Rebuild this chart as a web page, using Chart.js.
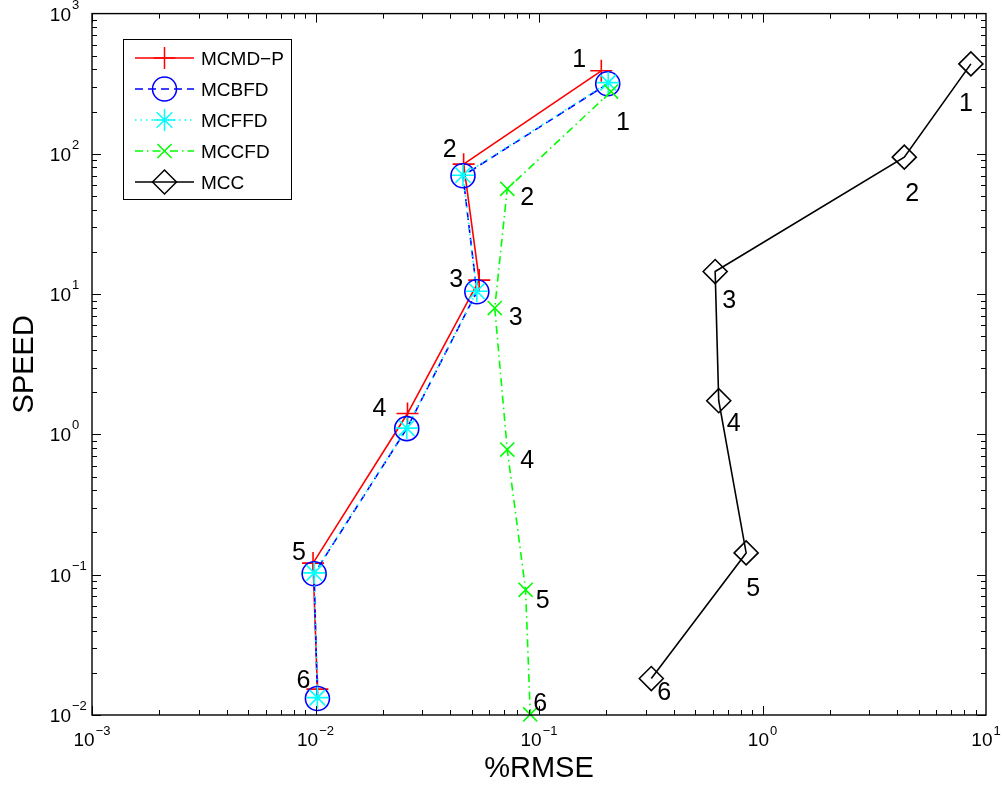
<!DOCTYPE html>
<html>
<head>
<meta charset="utf-8">
<script src="https://cdn.jsdelivr.net/npm/chart.js@4.4.1/dist/chart.umd.min.js"></script>
<style>
  html, body { margin: 0; padding: 0; background: #fff; }
  #wrap { width: 1003px; height: 786px; }
</style>
</head>
<body>
<div id="wrap"><canvas id="speedChart"></canvas></div>
<script>
/* datos */
const pointLabels = ['1', '2', '3', '4', '5', '6'];

const mcmdpRmse  = [0.19, 0.046, 0.054, 0.0258, 0.00975, 0.0102];
const mcmdpSpeed = [391, 84.5, 12.6, 1.41, 0.121, 0.0153];

const mcbfdRmse  = [0.203, 0.0457, 0.0527, 0.0256, 0.00986, 0.0102];
const mcbfdSpeed = [316, 69.8, 10.4, 1.10, 0.1016, 0.0131];

const mcffdRmse  = [0.204, 0.0457, 0.0527, 0.0256, 0.00986, 0.0102];
const mcffdSpeed = [322, 70.5, 10.5, 1.11, 0.103, 0.0133];

const mccfdRmse  = [0.21, 0.0721, 0.0634, 0.0721, 0.0871, 0.0914];
const mccfdSpeed = [278, 56.4, 7.96, 0.78, 0.078, 0.0101];

const mccRmse  = [8.56, 4.31, 0.614, 0.637, 0.845, 0.318];
const mccSpeed = [438, 94.8, 14.5, 1.74, 0.143, 0.0182];

const xTicks = [0.001, 0.01, 0.1, 1, 10];
const yTicks = [0.01, 0.1, 1, 10, 100, 1000];

const FONT = '"Liberation Sans", Arial, Helvetica, sans-serif';

/* estilos tipo MATLAB */
const series = [
  { label: 'MCMD\u2212P', x: mcmdpRmse, y: mcmdpSpeed, color: '#ff0000', dash: [],            marker: 'cross',    r: 11 },
  { label: 'MCBFD',       x: mcbfdRmse, y: mcbfdSpeed, color: '#0000ff', dash: [8, 5],         marker: 'circle',   r: 12 },
  { label: 'MCFFD',       x: mcffdRmse, y: mcffdSpeed, color: '#00ffff', dash: [1.5, 4],       marker: 'star',     r: 11 },
  { label: 'MCCFD',       x: mccfdRmse, y: mccfdSpeed, color: '#00ff00', dash: [8, 4, 1.5, 4], marker: 'crossRot', r: 10 },
  { label: 'MCC',         x: mccRmse,   y: mccSpeed,   color: '#000000', dash: [],            marker: 'rectRot',  r: 12 }
];

// desplazamiento de los numeros respecto al punto (px)
const labelOffsets = {
  0: [[-22, -13], [-14, -16], [-23, -2], [-28, -7], [-14, -12], [-14, -10]],
  3: [[12, 29], [20, 7], [21, 8], [20, 9], [17, 9], [10, -12]],
  4: [[-5, 38], [8, 35], [14, 27], [15, 21], [7, 34], [13, 12]]
};

function drawMarker(ctx, style, x, y, r) {
  const d = r * Math.SQRT1_2;
  ctx.beginPath();
  if (style === 'circle') {
    ctx.arc(x, y, r, 0, Math.PI * 2);
  } else if (style === 'cross' || style === 'star') {
    ctx.moveTo(x - r, y); ctx.lineTo(x + r, y);
    ctx.moveTo(x, y - r); ctx.lineTo(x, y + r);
  }
  if (style === 'crossRot' || style === 'star') {
    ctx.moveTo(x - d, y - d); ctx.lineTo(x + d, y + d);
    ctx.moveTo(x - d, y + d); ctx.lineTo(x + d, y - d);
  }
  if (style === 'rectRot') {
    ctx.moveTo(x - r, y); ctx.lineTo(x, y - r);
    ctx.lineTo(x + r, y); ctx.lineTo(x, y + r);
    ctx.closePath();
  }
  ctx.stroke();
}

function expText(v) {
  return String(Math.round(Math.log10(v))).replace('-', '\u2212');
}

/* marco, ticks hacia dentro y etiquetas 10^n */
const axesFrame = {
  id: 'axesFrame',
  afterDraw(chart) {
    const ctx = chart.ctx;
    const a = chart.chartArea;
    const xs = chart.scales.x, ys = chart.scales.y;
    ctx.save();
    ctx.strokeStyle = '#000';
    ctx.lineWidth = 1;
    ctx.beginPath();
    // ticks menores y mayores
    for (let k = -3; k < 1; k++) {
      for (let m = 1; m <= 9; m++) {
        const v = m * Math.pow(10, k);
        const px = Math.round(xs.getPixelForValue(v)) + 0.5;
        const len = m === 1 ? 9 : 5;
        ctx.moveTo(px, a.bottom); ctx.lineTo(px, a.bottom - len);
        ctx.moveTo(px, a.top); ctx.lineTo(px, a.top + len);
      }
    }
    for (let k = -2; k < 3; k++) {
      for (let m = 1; m <= 9; m++) {
        const v = m * Math.pow(10, k);
        const py = Math.round(ys.getPixelForValue(v)) + 0.5;
        const len = m === 1 ? 9 : 5;
        ctx.moveTo(a.left, py); ctx.lineTo(a.left + len, py);
        ctx.moveTo(a.right, py); ctx.lineTo(a.right - len, py);
      }
    }
    ctx.stroke();
    ctx.lineWidth = 1.4;
    ctx.strokeRect(a.left, a.top, a.right - a.left, a.bottom - a.top);

    ctx.fillStyle = '#000';
    ctx.textBaseline = 'alphabetic';
    // eje y
    yTicks.forEach(v => {
      const py = ys.getPixelForValue(v);
      ctx.font = '19px ' + FONT;
      ctx.textAlign = 'right';
      ctx.fillText('10', a.left - 21, py + 7);
      ctx.font = '13px ' + FONT;
      ctx.textAlign = 'left';
      ctx.fillText(expText(v), a.left - 20, py - 5);
    });
    // eje x
    xTicks.forEach(v => {
      const px = xs.getPixelForValue(v);
      ctx.font = '19px ' + FONT;
      const wb = ctx.measureText('10').width;
      ctx.font = '13px ' + FONT;
      const we = ctx.measureText(expText(v)).width;
      const x0 = px - (wb + we + 1) / 2;
      ctx.textAlign = 'left';
      ctx.font = '19px ' + FONT;
      ctx.fillText('10', x0, a.bottom + 31);
      ctx.font = '13px ' + FONT;
      ctx.fillText(expText(v), x0 + wb + 1, a.bottom + 20);
    });

    // titulos de ejes
    ctx.font = '29px ' + FONT;
    ctx.textAlign = 'center';
    ctx.fillText('%RMSE', (a.left + a.right) / 2, 777);
    ctx.save();
    ctx.translate(33, (a.top + a.bottom) / 2);
    ctx.rotate(-Math.PI / 2);
    ctx.fillText('SPEED', 0, 0);
    ctx.restore();

    // leyenda
    const lx = 123.5, ly = 39.5, lw = 168, lh = 160;
    ctx.fillStyle = '#fff';
    ctx.fillRect(lx, ly, lw, lh);
    ctx.lineWidth = 1;
    ctx.strokeRect(lx, ly, lw, lh);
    series.forEach((s, i) => {
      const yy = 58 + i * 31;
      ctx.strokeStyle = s.color;
      ctx.lineWidth = 1.5;
      ctx.setLineDash(s.dash);
      ctx.beginPath();
      ctx.moveTo(135, yy); ctx.lineTo(194, yy);
      ctx.stroke();
      ctx.setLineDash([]);
      drawMarker(ctx, s.marker, 164.5, yy, s.r);
      ctx.fillStyle = '#000';
      ctx.font = '19px ' + FONT;
      ctx.textAlign = 'left';
      ctx.fillText(s.label, 201, yy + 7);
    });
    ctx.restore();
  }
};

/* numeros junto a los puntos */
const pointNumbers = {
  id: 'pointNumbers',
  afterDatasetsDraw(chart) {
    const ctx = chart.ctx;
    ctx.save();
    ctx.fillStyle = '#000';
    ctx.font = '25px ' + FONT;
    ctx.textAlign = 'center';
    ctx.textBaseline = 'alphabetic';
    Object.keys(labelOffsets).forEach(idx => {
      const meta = chart.getDatasetMeta(Number(idx));
      meta.data.forEach((pt, j) => {
        const off = labelOffsets[idx][j];
        ctx.fillText(pointLabels[j], pt.x + off[0], pt.y + off[1] + 9);
      });
    });
    ctx.restore();
  }
};

const ctx = document.getElementById('speedChart').getContext('2d');
new Chart(ctx, {
  type: 'line',
  data: {
    datasets: series.map((s, i) => ({
      label: s.label,
      data: s.x.map((v, j) => ({ x: v, y: s.y[j] })),
      borderColor: s.color,
      borderWidth: 1.6,
      borderDash: s.dash,
      tension: 0,
      fill: false,
      clip: false,
      order: series.length - i,
      pointStyle: s.marker,
      pointRadius: s.r,
      pointBorderColor: s.color,
      pointBorderWidth: 1.6,
      pointBackgroundColor: 'rgba(0,0,0,0)'
    }))
  },
  options: {
    responsive: true,
    maintainAspectRatio: false,
    animation: false,
    events: [],
    layout: { padding: { top: 12, right: 17, left: 0, bottom: 0 } },
    plugins: {
      legend: { display: false },
      tooltip: { enabled: false }
    },
    scales: {
      x: {
        type: 'logarithmic',
        min: 0.001,
        max: 10,
        grid: { display: false },
        border: { display: false },
        ticks: { display: false },
        afterFit: scale => { scale.height = 71; }
      },
      y: {
        type: 'logarithmic',
        min: 0.01,
        max: 1000,
        grid: { display: false },
        border: { display: false },
        ticks: { display: false },
        afterFit: scale => { scale.width = 92; }
      }
    }
  },
  plugins: [pointNumbers, axesFrame]
});
</script>
</body>
</html>
